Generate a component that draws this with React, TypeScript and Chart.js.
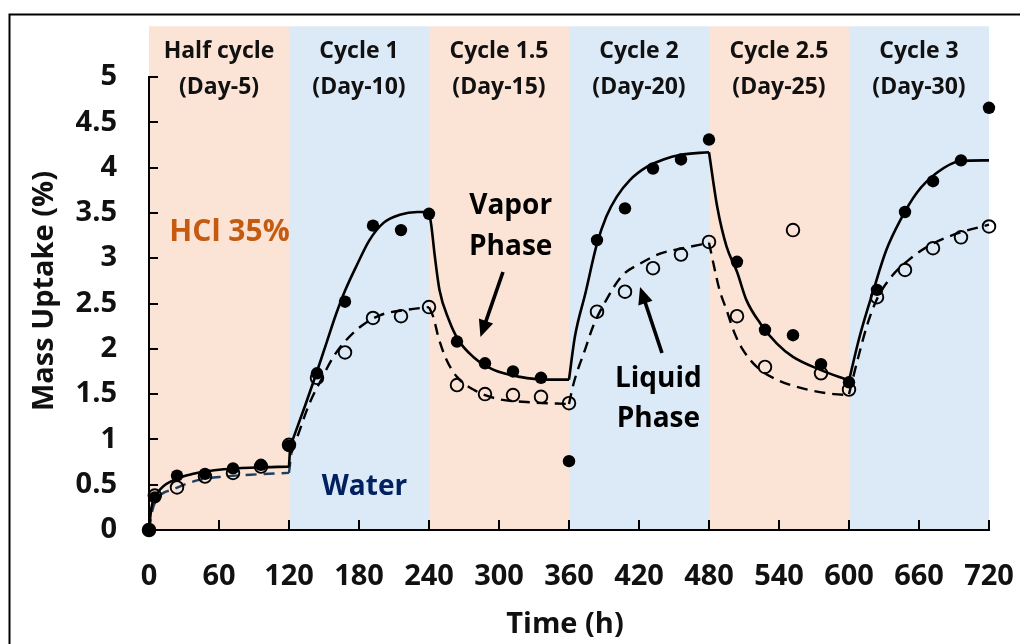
import React, { useEffect, useRef } from 'react';
import { Chart, registerables } from 'chart.js';

Chart.register(...registerables);

const W = 1020;
const H = 644;
const FONT = '"Open Sans", "DejaVu Sans", sans-serif';

// ---- axes ----
const xMin = 0;
const xMax = 720;
const xStep = 60;
const yMin = 0;
const yMax = 5;
const yStep = 0.5;
const bandTop = 5.56;

// ---- background bands ----
const bandEdges = [0, 120, 240, 360, 480, 600, 720];
const bandTitles = ['Half cycle', 'Cycle 1', 'Cycle 1.5', 'Cycle 2', 'Cycle 2.5', 'Cycle 3'];
const bandDays = ['(Day-5)', '(Day-10)', '(Day-15)', '(Day-20)', '(Day-25)', '(Day-30)'];
const bandColors = ['#FBE4D6', '#DCE9F6', '#FBE4D6', '#DCE9F6', '#FBE4D6', '#DCE9F6'];

// ---- measured data ----
const sampleTimes = [0, 5, 24, 48, 72, 96, 120, 144, 168, 192, 216, 240, 264, 288, 312, 336, 360, 384, 408, 432, 456, 480, 504, 528, 552, 576, 600, 624, 648, 672, 696, 720];
const vaporUptake = [0, 0.36, 0.6, 0.62, 0.68, 0.72, 0.93, 1.73, 2.52, 3.36, 3.31, 3.49, 2.08, 1.84, 1.75, 1.68, 0.76, 3.2, 3.55, 3.99, 4.09, 4.31, 2.96, 2.21, 2.15, 1.83, 1.63, 2.65, 3.51, 3.85, 4.08, 4.66];
const liquidUptake = [0, 0.38, 0.47, 0.59, 0.63, 0.7, 0.94, 1.68, 1.96, 2.34, 2.36, 2.46, 1.6, 1.5, 1.49, 1.47, 1.4, 2.41, 2.63, 2.89, 3.04, 3.18, 2.36, 1.8, 3.31, 1.73, 1.55, 2.57, 2.87, 3.11, 3.23, 3.35];

// ---- model fit curves (one list per piece) ----
const vaporFitSegments: number[][][] = [
  [[0, 0], [2, 0.24], [8, 0.42], [21, 0.55], [38, 0.62], [64, 0.67], [92, 0.69], [120, 0.7]],
  [[120, 0.7], [121, 0.92]],
  [[121, 0.92], [134, 1.38], [144, 1.75], [152, 2.06], [160, 2.37], [168, 2.64], [178, 2.92], [189, 3.2], [201, 3.39], [215, 3.48], [230, 3.51], [240, 3.51]],
  [[240, 3.51], [242, 3.36], [245, 3.02], [249, 2.65], [257, 2.32], [265, 2.1], [278, 1.91], [295, 1.77], [318, 1.69], [341, 1.66], [360, 1.66]],
  [[360, 1.66], [365, 2.13], [374, 2.61], [384, 3.16], [392, 3.46], [401, 3.68], [412, 3.86], [427, 4.01], [441, 4.09], [455, 4.14], [480, 4.17]],
  [[480, 4.17], [487, 3.57], [495, 3.13], [504, 2.85], [512, 2.54], [524, 2.28], [538, 2.06], [552, 1.91], [575, 1.77], [600, 1.65]],
  [[600, 1.65], [609, 2.13], [621, 2.65], [632, 3.09], [644, 3.42], [658, 3.72], [675, 3.94], [695, 4.07], [720, 4.08]],
];
const liquidFitSegments: number[][][] = [
  [[0, 0], [3, 0.22], [8, 0.36], [21, 0.45], [42, 0.55], [64, 0.59], [87, 0.61], [120, 0.63]],
  [[120, 0.63], [122, 0.85]],
  [[122, 0.85], [128, 1.06], [137, 1.38], [148, 1.67], [159, 1.93], [178, 2.21], [198, 2.37], [221, 2.43], [240, 2.46]],
  [[240, 2.46], [244, 2.34], [248, 2.13], [255, 1.88], [264, 1.69], [278, 1.55], [298, 1.45], [327, 1.41], [360, 1.39]],
  [[360, 1.39], [364, 1.62], [374, 2.0], [381, 2.26], [392, 2.54], [405, 2.8], [421, 2.94], [438, 3.05], [458, 3.11], [480, 3.17]],
  [[480, 3.17], [481, 3.11], [485, 2.87], [489, 2.65], [495, 2.43], [502, 2.17], [509, 1.99], [521, 1.8], [538, 1.66], [561, 1.56], [587, 1.5], [600, 1.49]],
  [[600, 1.5], [608, 1.91], [616, 2.28], [624, 2.55], [636, 2.79], [652, 2.99], [669, 3.14], [692, 3.27], [720, 3.37]],
];

// ---- annotation layout (in data coordinates) ----
const notes = [
  { text: 'HCl 35%', x: 69, y: 3.19, color: '#C55A11', size: 30 },
  { text: 'Water', x: 184.7, y: 0.386, color: '#002060', size: 28 },
  { text: 'Vapor', x: 310, y: 3.49, color: '#000', size: 28 },
  { text: 'Phase', x: 310, y: 3.035, color: '#000', size: 28 },
  { text: 'Liquid', x: 436.6, y: 1.582, color: '#000', size: 28 },
  { text: 'Phase', x: 436.6, y: 1.14, color: '#000', size: 28 },
];
const arrows = [
  { from: [303.4, 2.848], to: [284.1, 2.13] },
  { from: [439.7, 1.954], to: [420.9, 2.682] },
];
const bandLine1 = 5.215;
const bandLine2 = 4.81;

function joinSegments(segs: number[][][]) {
  const out: { x: number; y: number | null }[] = [];
  segs.forEach((seg, i) => {
    if (i > 0) out.push({ x: seg[0][0], y: null });
    seg.forEach(([x, y]) => out.push({ x, y }));
  });
  return out;
}

const decorPlugin = {
  id: 'decor',
  beforeDraw(chart: any) {
    const { ctx, scales } = chart;
    const x = scales.x;
    const y = scales.y;
    ctx.save();
    const top = y.getPixelForValue(bandTop);
    const bottom = y.getPixelForValue(0);
    for (let i = 0; i < bandTitles.length; i++) {
      const l = x.getPixelForValue(bandEdges[i]);
      const r = x.getPixelForValue(bandEdges[i + 1]);
      ctx.fillStyle = bandColors[i];
      ctx.fillRect(l, top, r - l, bottom - top);
      ctx.fillStyle = '#111';
      ctx.font = `bold 23px ${FONT}`;
      ctx.textAlign = 'center';
      ctx.textBaseline = 'alphabetic';
      ctx.fillText(bandTitles[i], (l + r) / 2, y.getPixelForValue(bandLine1));
      ctx.fillText(bandDays[i], (l + r) / 2, y.getPixelForValue(bandLine2));
    }
    ctx.restore();
  },
  afterDraw(chart: any) {
    const { ctx, chartArea: ca, scales } = chart;
    const x = scales.x;
    const y = scales.y;
    ctx.save();
    // inward tick marks
    ctx.strokeStyle = '#000';
    ctx.lineWidth = 2;
    ctx.beginPath();
    y.ticks.forEach((t: any) => {
      const py = Math.round(y.getPixelForValue(t.value));
      ctx.moveTo(ca.left, py);
      ctx.lineTo(ca.left + 9, py);
    });
    x.ticks.forEach((t: any) => {
      const px = Math.round(x.getPixelForValue(t.value));
      ctx.moveTo(px, ca.bottom);
      ctx.lineTo(px, ca.bottom - 10);
    });
    ctx.stroke();

    // text notes
    ctx.textAlign = 'center';
    ctx.textBaseline = 'alphabetic';
    notes.forEach((n) => {
      ctx.font = `bold ${n.size}px ${FONT}`;
      ctx.fillStyle = n.color;
      ctx.fillText(n.text, x.getPixelForValue(n.x), y.getPixelForValue(n.y));
    });

    // arrows
    ctx.fillStyle = '#000';
    ctx.strokeStyle = '#000';
    arrows.forEach((a) => {
      const x0 = x.getPixelForValue(a.from[0]);
      const y0 = y.getPixelForValue(a.from[1]);
      const x1 = x.getPixelForValue(a.to[0]);
      const y1 = y.getPixelForValue(a.to[1]);
      const ang = Math.atan2(y1 - y0, x1 - x0);
      const hl = 17;
      const hw = 7.5;
      const bx = x1 - hl * Math.cos(ang);
      const by = y1 - hl * Math.sin(ang);
      ctx.lineWidth = 3.6;
      ctx.beginPath();
      ctx.moveTo(x0, y0);
      ctx.lineTo(bx + 2 * Math.cos(ang), by + 2 * Math.sin(ang));
      ctx.stroke();
      ctx.beginPath();
      ctx.moveTo(x1, y1);
      ctx.lineTo(bx - hw * Math.sin(ang), by + hw * Math.cos(ang));
      ctx.lineTo(bx + hw * Math.sin(ang), by - hw * Math.cos(ang));
      ctx.closePath();
      ctx.fill();
    });

    // axis titles
    ctx.fillStyle = '#111';
    ctx.font = `bold 29px ${FONT}`;
    ctx.textAlign = 'center';
    ctx.textBaseline = 'alphabetic';
    ctx.fillText('Time (h)', (ca.left + ca.right) / 2 - 4, 633);
    ctx.save();
    ctx.translate(53, 291);
    ctx.rotate(-Math.PI / 2);
    ctx.fillText('Mass Uptake (%)', 0, 0);
    ctx.restore();

    // outer frame
    ctx.strokeStyle = '#000';
    ctx.lineWidth = 2;
    ctx.strokeRect(9.5, 14.5, W + 20, H + 20);
    ctx.restore();
  },
};

export default function App() {
  const ref = useRef<HTMLCanvasElement>(null);
  useEffect(() => {
    const canvas = ref.current;
    if (!canvas) return;
    const liquidFitData = joinSegments(liquidFitSegments);
    const navyCount = liquidFitSegments[0].length;
    const chart = new Chart(canvas, {
      type: 'line',
      data: {
        datasets: [
          {
            label: 'Vapor Phase',
            data: sampleTimes.map((t, i) => ({ x: t, y: vaporUptake[i] })),
            showLine: false,
            pointRadius: 6.2,
            pointBackgroundColor: '#000',
            pointBorderColor: '#000',
            pointBorderWidth: 0,
            order: 0,
            clip: false,
          } as any,
          {
            label: 'Liquid Phase',
            data: sampleTimes.map((t, i) => ({ x: t, y: liquidUptake[i] })),
            showLine: false,
            pointRadius: 6.3,
            pointBackgroundColor: 'rgba(0,0,0,0)',
            pointBorderColor: '#000',
            pointBorderWidth: 1.9,
            order: 1,
            clip: false,
          } as any,
          {
            label: 'Vapor fit',
            data: joinSegments(vaporFitSegments),
            borderColor: '#000',
            borderWidth: 2.6,
            pointRadius: 0,
            cubicInterpolationMode: 'monotone',
            spanGaps: false,
            order: 2,
            clip: false,
          } as any,
          {
            label: 'Liquid fit',
            data: liquidFitData,
            borderColor: '#000',
            borderWidth: 2.4,
            borderDash: [11, 7],
            pointRadius: 0,
            cubicInterpolationMode: 'monotone',
            spanGaps: false,
            order: 3,
            clip: false,
            segment: {
              borderColor: (c: any) => (c.p1DataIndex < navyCount + 3 ? '#1F3F60' : '#000'),
            },
          } as any,
        ],
      },
      options: {
        animation: false,
        responsive: false,
        devicePixelRatio: 1,
        events: [],
        layout: { padding: { left: 0, right: 31, top: 77, bottom: 0 } },
        plugins: {
          legend: { display: false },
          tooltip: { enabled: false },
        },
        scales: {
          x: {
            type: 'linear',
            min: xMin,
            max: xMax,
            grid: { display: false, drawTicks: false },
            border: { display: true, color: '#000', width: 2 },
            ticks: {
              stepSize: xStep,
              color: '#111',
              padding: 29,
              font: { family: FONT, size: 29, weight: 'bold' },
              callback: (v: any) => String(v),
            },
            afterFit: (s: any) => {
              s.height = 114;
              s.paddingLeft = 0;
              s.paddingRight = 0;
            },
          },
          y: {
            type: 'linear',
            min: yMin,
            max: yMax,
            grid: { display: false, drawTicks: false },
            border: { display: true, color: '#000', width: 2 },
            ticks: {
              stepSize: yStep,
              color: '#111',
              padding: 32,
              font: { family: FONT, size: 29, weight: 'bold' },
              callback: (v: any) => String(Number(v)),
            },
            afterFit: (s: any) => {
              s.width = 149;
              s.paddingTop = 0;
              s.paddingBottom = 0;
            },
          },
        },
      } as any,
      plugins: [decorPlugin],
    });
    return () => chart.destroy();
  }, []);
  return (
    <div style={{ position: 'absolute', left: 0, top: 0, width: W, height: H, background: '#fff' }}>
      <canvas ref={ref} width={W} height={H} style={{ display: 'block', width: W, height: H }} />
    </div>
  );
}
